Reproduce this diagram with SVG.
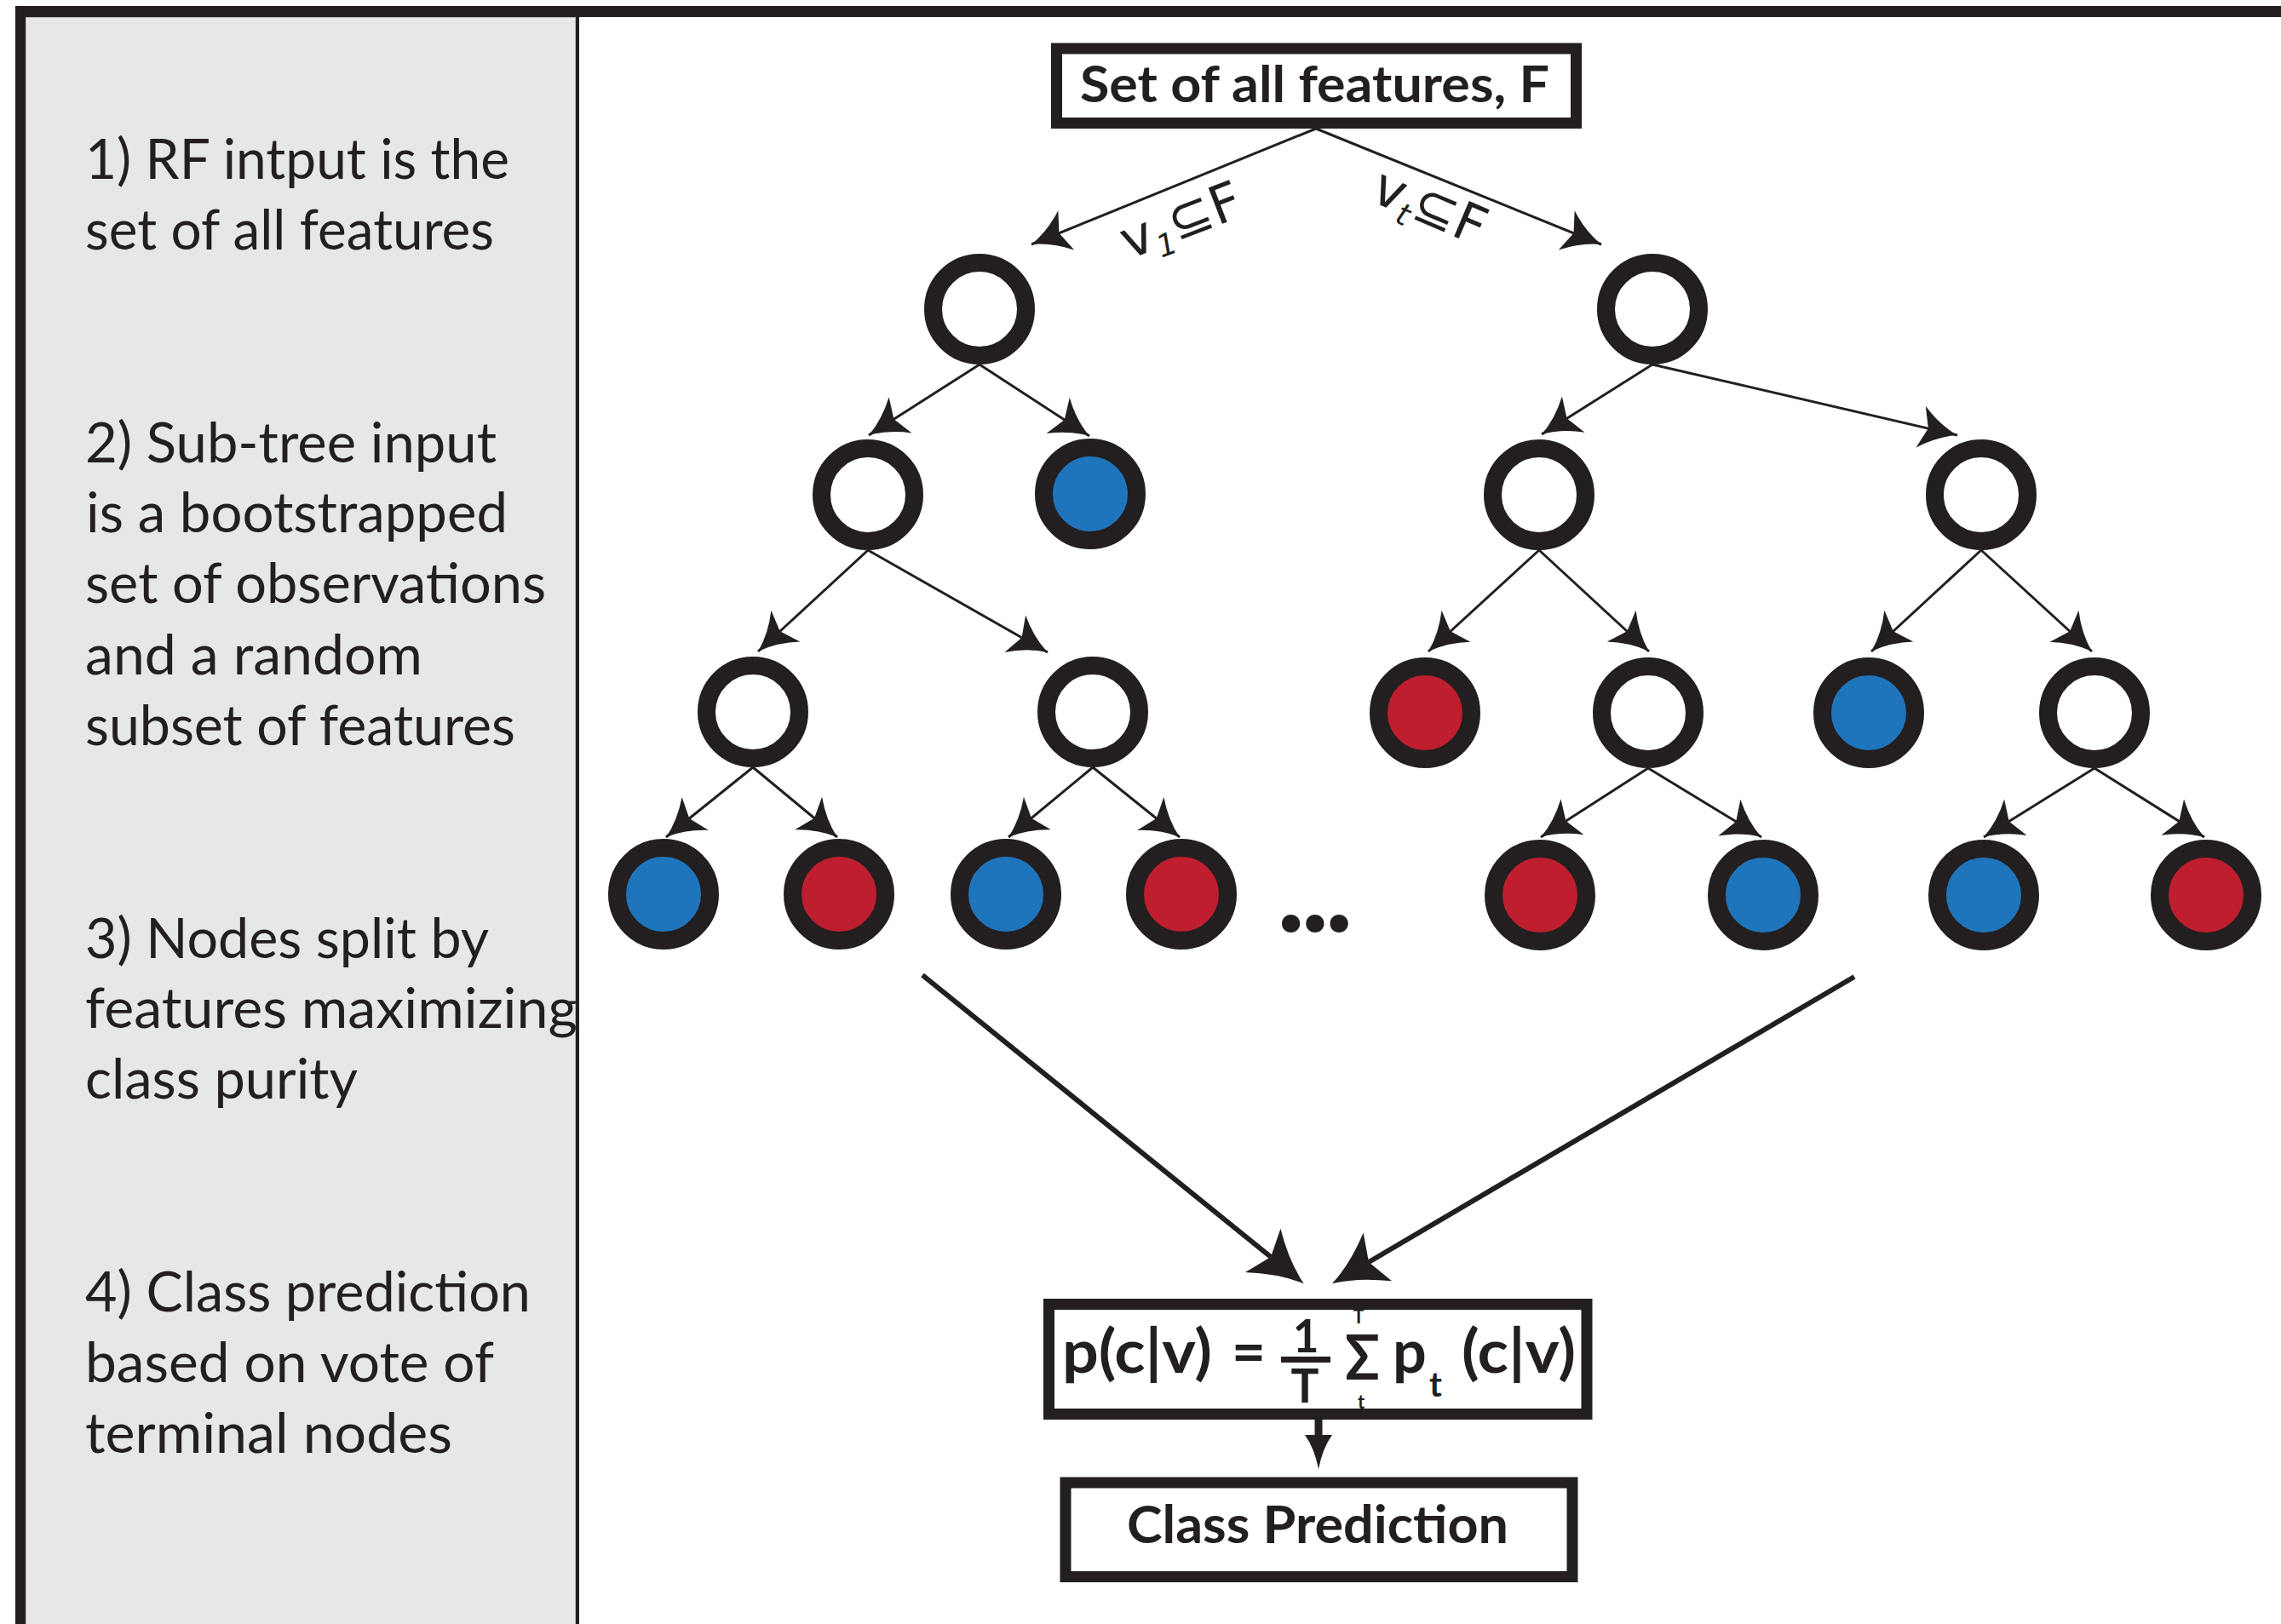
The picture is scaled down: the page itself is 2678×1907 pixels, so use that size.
<svg xmlns="http://www.w3.org/2000/svg" width="2678" height="1907" viewBox="0 0 2678 1907">
<defs>
<style>
.panel{fill:#e6e7e8;stroke:#a7a9ac;stroke-width:1.5;}
.frame{fill:#231f20;}
.step{font-family:Lato,'Open Sans',sans-serif;font-size:65px;fill:#231f20;}
.box{fill:#fff;stroke:#231f20;stroke-width:13;}
.bold{font-family:Lato,'Open Sans','Noto Sans',sans-serif;font-weight:bold;fill:#231f20;}
.node{stroke:#231f20;stroke-width:21;}
.w{fill:#fff;}
.b{fill:#1f75bc;}
.r{fill:#be1e2d;}
.edge{stroke:#231f20;stroke-width:3;fill:none;marker-end:url(#ah);}
.big{stroke:#231f20;stroke-width:6;fill:none;marker-end:url(#ahb);}
.down{stroke:#231f20;stroke-width:9;fill:none;marker-end:url(#ahd);}
.lbl{font-family:'DejaVu Sans',sans-serif;font-size:62px;fill:#231f20;}
</style>
<marker id="ah" markerUnits="userSpaceOnUse" orient="auto" refX="35" refY="0" markerWidth="60" markerHeight="60" overflow="visible">
<path d="M35,0 Q12,-7 -9,-25 L0,0 L-9,25 Q12,7 35,0 Z" fill="#231f20"/>
</marker>
<marker id="ahb" markerUnits="userSpaceOnUse" orient="auto" refX="0" refY="0" markerWidth="80" markerHeight="80" overflow="visible">
<path d="M50,0 Q20,-9 -12,-33 L0,0 L-12,33 Q20,9 50,0 Z" fill="#231f20"/>
</marker>
<marker id="ahd" markerUnits="userSpaceOnUse" orient="auto" refX="0" refY="0" markerWidth="60" markerHeight="60" overflow="visible">
<path d="M40,0 Q15,-5 0,-16 L0,16 Q15,5 40,0 Z" fill="#231f20"/>
</marker>
</defs>

<rect width="2678" height="1907" fill="#fff"/>

<g id="panel">
<rect class="panel" x="30" y="20" width="646" height="1900"/>
<rect class="frame" x="18" y="7" width="2660" height="13"/>
<rect class="frame" x="18" y="7" width="12" height="1900"/>
</g>

<g id="steps">
<text class="step" x="100" y="210" textLength="498" lengthAdjust="spacingAndGlyphs">1) RF intput is the</text>
<text class="step" x="100" y="293" textLength="480" lengthAdjust="spacingAndGlyphs">set of all features</text>
<text class="step" x="100" y="543" textLength="483" lengthAdjust="spacingAndGlyphs">2) Sub-tree input</text>
<text class="step" x="101" y="625" textLength="495" lengthAdjust="spacingAndGlyphs">is a bootstrapped</text>
<text class="step" x="100" y="708" textLength="541" lengthAdjust="spacingAndGlyphs">set of observations</text>
<text class="step" x="100" y="792" textLength="396" lengthAdjust="spacingAndGlyphs">and a random</text>
<text class="step" x="100" y="875" textLength="505" lengthAdjust="spacingAndGlyphs">subset of features</text>
<text class="step" x="100" y="1125" textLength="474" lengthAdjust="spacingAndGlyphs">3) Nodes split by</text>
<text class="step" x="100" y="1207" textLength="578" lengthAdjust="spacingAndGlyphs">features maximizing</text>
<text class="step" x="100" y="1290" textLength="320" lengthAdjust="spacingAndGlyphs">class purity</text>
<text class="step" x="100" y="1540" textLength="523" lengthAdjust="spacingAndGlyphs">4) Class prediction</text>
<text class="step" x="100" y="1623" textLength="480" lengthAdjust="spacingAndGlyphs">based on vote of</text>
<text class="step" x="100" y="1706" textLength="431" lengthAdjust="spacingAndGlyphs">terminal nodes</text>
</g>

<rect id="divider" x="676" y="20" width="4" height="1887" fill="#231f20"/>

<g id="connectors">
<line class="edge" x1="1545" y1="151" x2="1211" y2="287"/>
<line class="edge" x1="1545" y1="151" x2="1880" y2="287"/>
<line class="edge" x1="1150" y1="428" x2="1020" y2="511"/>
<line class="edge" x1="1150" y1="428" x2="1279" y2="512"/>
<line class="edge" x1="1019" y1="646" x2="890" y2="765"/>
<line class="edge" x1="1019" y1="646" x2="1230" y2="766"/>
<line class="edge" x1="884" y1="901" x2="782" y2="983"/>
<line class="edge" x1="884" y1="901" x2="983" y2="983"/>
<line class="edge" x1="1283" y1="901" x2="1184" y2="983"/>
<line class="edge" x1="1283" y1="901" x2="1385" y2="983"/>
<line class="edge" x1="1940" y1="428" x2="1810" y2="510"/>
<line class="edge" x1="1940" y1="428" x2="2298" y2="511"/>
<line class="edge" x1="1807" y1="646" x2="1677" y2="765"/>
<line class="edge" x1="1807" y1="646" x2="1936" y2="765"/>
<line class="edge" x1="2326" y1="646" x2="2197" y2="765"/>
<line class="edge" x1="2326" y1="646" x2="2456" y2="765"/>
<line class="edge" x1="1935" y1="902" x2="1809" y2="983"/>
<line class="edge" x1="1935" y1="902" x2="2068" y2="983"/>
<line class="edge" x1="2459" y1="902" x2="2329" y2="983"/>
<line class="edge" x1="2459" y1="902" x2="2588" y2="983"/>
<line class="big" x1="1083" y1="1145" x2="1492" y2="1476"/>
<line class="big" x1="2177" y1="1147" x2="1607" y2="1482"/>
<line class="down" x1="1548" y1="1667" x2="1548" y2="1685"/>
<text class="lbl" transform="translate(1325,305) rotate(-21)">v<tspan font-size="36" dy="12" font-style="italic">1</tspan><tspan dy="-12">⊆F</tspan></text>
<text class="lbl" transform="translate(1607,235) rotate(23)">v<tspan font-size="36" dy="12" font-style="italic">t</tspan><tspan dy="-12">⊆F</tspan></text>
</g>

<g id="features-box">
<rect class="box" x="1240.5" y="57" width="610" height="87.5"/>
<text class="bold" x="1268" y="120" font-size="60" textLength="551" lengthAdjust="spacingAndGlyphs">Set of all features, F</text>
</g>

<g id="tree1">
<circle id="n-a" class="node w" cx="1150" cy="363" r="54.5"/>
<circle id="n-b" class="node w" cx="1019" cy="581" r="54.5"/>
<circle id="n-c" class="node b" cx="1280" cy="580" r="54.5"/>
<circle id="n-d" class="node w" cx="884" cy="836" r="54.5"/>
<circle id="n-e" class="node w" cx="1283" cy="836" r="54.5"/>
<circle id="n-f" class="node b" cx="779" cy="1050" r="54.5"/>
<circle id="n-g" class="node r" cx="985" cy="1050" r="54.5"/>
<circle id="n-h" class="node b" cx="1181" cy="1050" r="54.5"/>
<circle id="n-i" class="node r" cx="1387" cy="1050" r="54.5"/>
</g>

<g id="ellipsis">
<text class="bold" x="1499" y="1094" font-size="140" font-family="'Open Sans',sans-serif" letter-spacing="-5">...</text>
</g>

<g id="tree2">
<circle id="n-j" class="node w" cx="1940" cy="363" r="54.5"/>
<circle id="n-k" class="node w" cx="1807" cy="581" r="54.5"/>
<circle id="n-l" class="node w" cx="2326" cy="581" r="54.5"/>
<circle id="n-m" class="node r" cx="1673" cy="837" r="54.5"/>
<circle id="n-n" class="node w" cx="1935" cy="837" r="54.5"/>
<circle id="n-o" class="node b" cx="2194" cy="837" r="54.5"/>
<circle id="n-p" class="node w" cx="2459" cy="837" r="54.5"/>
<circle id="n-q" class="node r" cx="1808" cy="1051" r="54.5"/>
<circle id="n-r" class="node b" cx="2070" cy="1051" r="54.5"/>
<circle id="n-s" class="node b" cx="2329" cy="1051" r="54.5"/>
<circle id="n-t" class="node r" cx="2590" cy="1051" r="54.5"/>
</g>

<g id="formula-box">
<rect class="box" x="1231.5" y="1531.5" width="631.5" height="129"/>
<text class="bold" x="1247" y="1612" font-size="70" textLength="176" lengthAdjust="spacingAndGlyphs">p(c|v)</text>
<text class="bold" x="1446" y="1612" font-size="70" textLength="40" lengthAdjust="spacingAndGlyphs">=</text>
<text class="bold" x="1533" y="1588" font-size="53" text-anchor="middle">1</text>
<rect x="1504" y="1593" width="58" height="7" fill="#231f20"/>
<text class="bold" x="1532" y="1647" font-size="55" text-anchor="middle">T</text>
<text class="bold" x="1579" y="1620" font-size="72" textLength="41" lengthAdjust="spacingAndGlyphs">Σ</text>
<text class="bold" x="1595" y="1554" font-size="22" text-anchor="middle">T</text>
<text class="bold" x="1598" y="1654" font-size="22" text-anchor="middle">t</text>
<text class="bold" x="1635" y="1612" font-size="70">p</text>
<text class="bold" x="1678" y="1640" font-size="40">t</text>
<text class="bold" x="1716" y="1612" font-size="70" textLength="134" lengthAdjust="spacingAndGlyphs">(c|v)</text>
</g>

<g id="prediction-box">
<rect class="box" x="1251" y="1741" width="595" height="110.5"/>
<text class="bold" x="1323" y="1812" font-size="62" textLength="448" lengthAdjust="spacingAndGlyphs">Class Prediction</text>
</g>
</svg>
